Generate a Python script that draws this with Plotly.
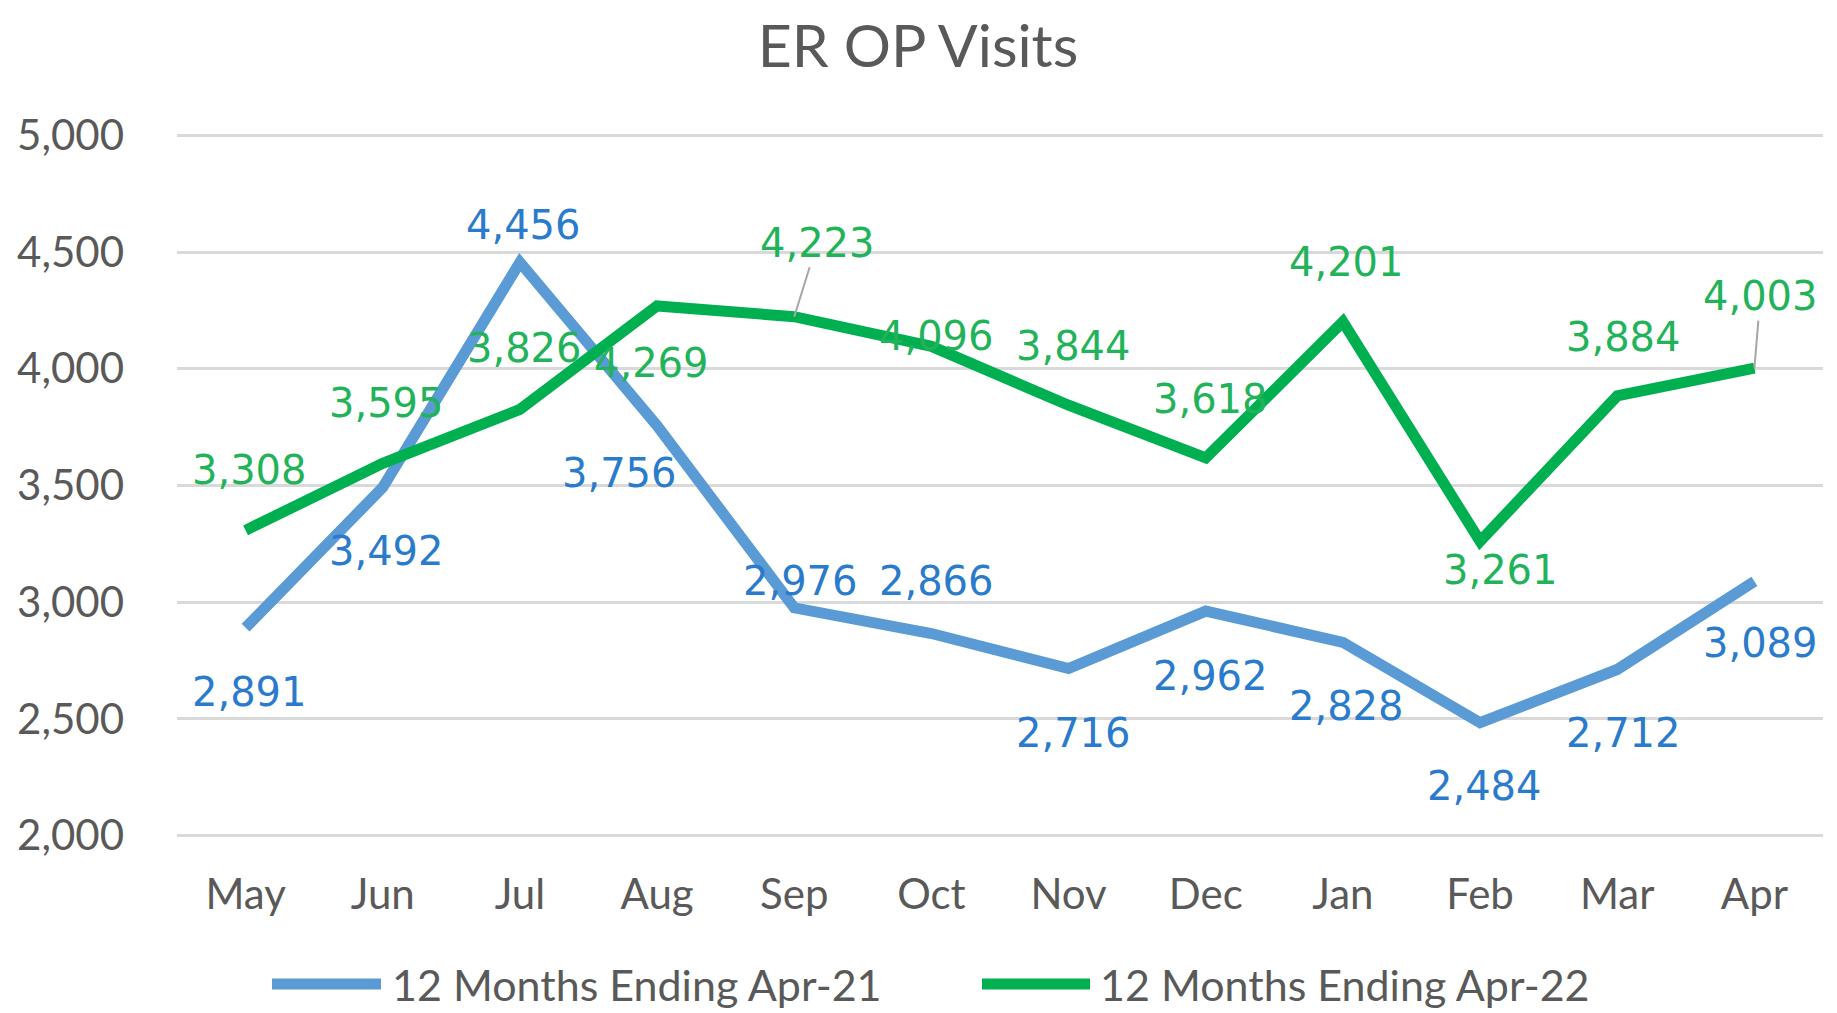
import plotly.graph_objects as go

# ---- data ----
months = ["May", "Jun", "Jul", "Aug", "Sep", "Oct", "Nov", "Dec", "Jan", "Feb", "Mar", "Apr"]
series_21_name = "12 Months Ending Apr-21"
series_22_name = "12 Months Ending Apr-22"
visits_21 = [2891, 3492, 4456, 3756, 2976, 2866, 2716, 2962, 2828, 2484, 2712, 3089]
visits_22 = [3308, 3595, 3826, 4269, 4223, 4096, 3844, 3618, 4201, 3261, 3884, 4003]
y_ticks = [2000, 2500, 3000, 3500, 4000, 4500, 5000]

# ---- styles ----
OFF = 8  # page body margin offset
W, H = 1837 - OFF, 1013 - OFF
M_L, M_R, M_T, M_B = 177 - OFF, 14, 133 - OFF, 175
BLUE_LINE, GREEN_LINE = "#5B9BD5", "#00B050"
BLUE_TEXT, GREEN_TEXT = "#2A7BCB", "#22B35A"
GREY = "#595959"
AX_FONT = "Lato, 'Open Sans', sans-serif"
LBL_FONT = "'DejaVu Sans', Verdana, sans-serif"
LBL_SIZE = 40

# label offsets (xshift, yshift) in pixels
off_21 = [(4, -64), (4, -64), (4, 37), (-38, -47), (6, 27), (5, 53),
          (5, -64), (5, -65), (4, -64), (4, -63), (6, -64), (6, -62)]
off_22 = [(4, 60), (4, 60), (5, 61), (-6, -57), None, (5, 10),
          (5, 59), (5, 59), (4, 60), (20, -29), (6, 59), None]
arrow_22 = {4: (23, -74), 11: (6, -72)}

fig = go.Figure()
fig.add_trace(go.Scatter(x=months, y=visits_21, mode="lines", name=series_21_name,
                         line=dict(color=BLUE_LINE, width=11), showlegend=False))
fig.add_trace(go.Scatter(x=months, y=visits_22, mode="lines", name=series_22_name,
                         line=dict(color=GREEN_LINE, width=11), showlegend=False))

annotations = []
for m, v, o in zip(months, visits_21, off_21):
    annotations.append(dict(x=m, y=v, xref="x", yref="y", text=f"{v:,}", showarrow=False,
                            xshift=o[0], yshift=o[1],
                            font=dict(family=LBL_FONT, size=LBL_SIZE, color=BLUE_TEXT)))
for i, (m, v, o) in enumerate(zip(months, visits_22, off_22)):
    if i in arrow_22:
        ax, ay = arrow_22[i]
        annotations.append(dict(x=m, y=v, xref="x", yref="y", text=f"{v:,}", showarrow=True,
                                arrowhead=0, arrowwidth=2, arrowcolor="#A6A6A6",
                                ax=ax, ay=ay, standoff=0,
                                font=dict(family=LBL_FONT, size=LBL_SIZE, color=GREEN_TEXT)))
    else:
        annotations.append(dict(x=m, y=v, xref="x", yref="y", text=f"{v:,}", showarrow=False,
                                xshift=o[0], yshift=o[1],
                                font=dict(family=LBL_FONT, size=LBL_SIZE, color=GREEN_TEXT)))

# ---- manual legend (pixel positions in page coordinates) ----
plot_h = H - M_T - M_B
plot_w = W - M_L - M_R
def px_to_paper_y(py):
    return (H - M_B - (py - OFF)) / plot_h
def px_to_paper_x(px):
    return ((px - OFF) - M_L) / plot_w

leg_y = px_to_paper_y(984)
shapes = []
for (x0, x1, tx, col, name) in [(272, 381, 390, BLUE_LINE, series_21_name),
                                (982, 1090, 1098, GREEN_LINE, series_22_name)]:
    shapes.append(dict(type="line", xref="paper", yref="paper",
                       x0=px_to_paper_x(x0), x1=px_to_paper_x(x1), y0=leg_y, y1=leg_y,
                       line=dict(color=col, width=11)))
    annotations.append(dict(x=px_to_paper_x(tx), y=leg_y, xref="paper", yref="paper",
                            text=name, showarrow=False, xanchor="left", yanchor="middle",
                            font=dict(family=AX_FONT, size=43, color=GREY)))

fig.update_layout(
    template="none",
    width=W, height=H,
    margin=dict(l=M_L, r=M_R, t=M_T, b=M_B, autoexpand=False),
    paper_bgcolor="white", plot_bgcolor="white",
    title=dict(text="ER OP Visits", x=(918 - OFF) / W, xanchor="center", xref="container",
               y=1 - 38 / H, yanchor="middle", yref="container",
               font=dict(family=AX_FONT, size=59, color=GREY)),
    xaxis=dict(range=[-0.5, 11.5], showgrid=False, showline=False, zeroline=False,
               automargin=False, ticks="",
               tickfont=dict(family=AX_FONT, size=42, color=GREY),
               ticklabelstandoff=28),
    yaxis=dict(range=[1990, 5010], tickvals=y_ticks, tickformat=",d",
               showgrid=True, gridcolor="#D9D9D9", gridwidth=3,
               showline=False, zeroline=False, automargin=False, ticks="",
               tickfont=dict(family=AX_FONT, size=42, color=GREY),
               ticklabelstandoff=52),
    annotations=annotations,
    shapes=shapes,
    showlegend=False,
)

fig.write_html("out.html")
